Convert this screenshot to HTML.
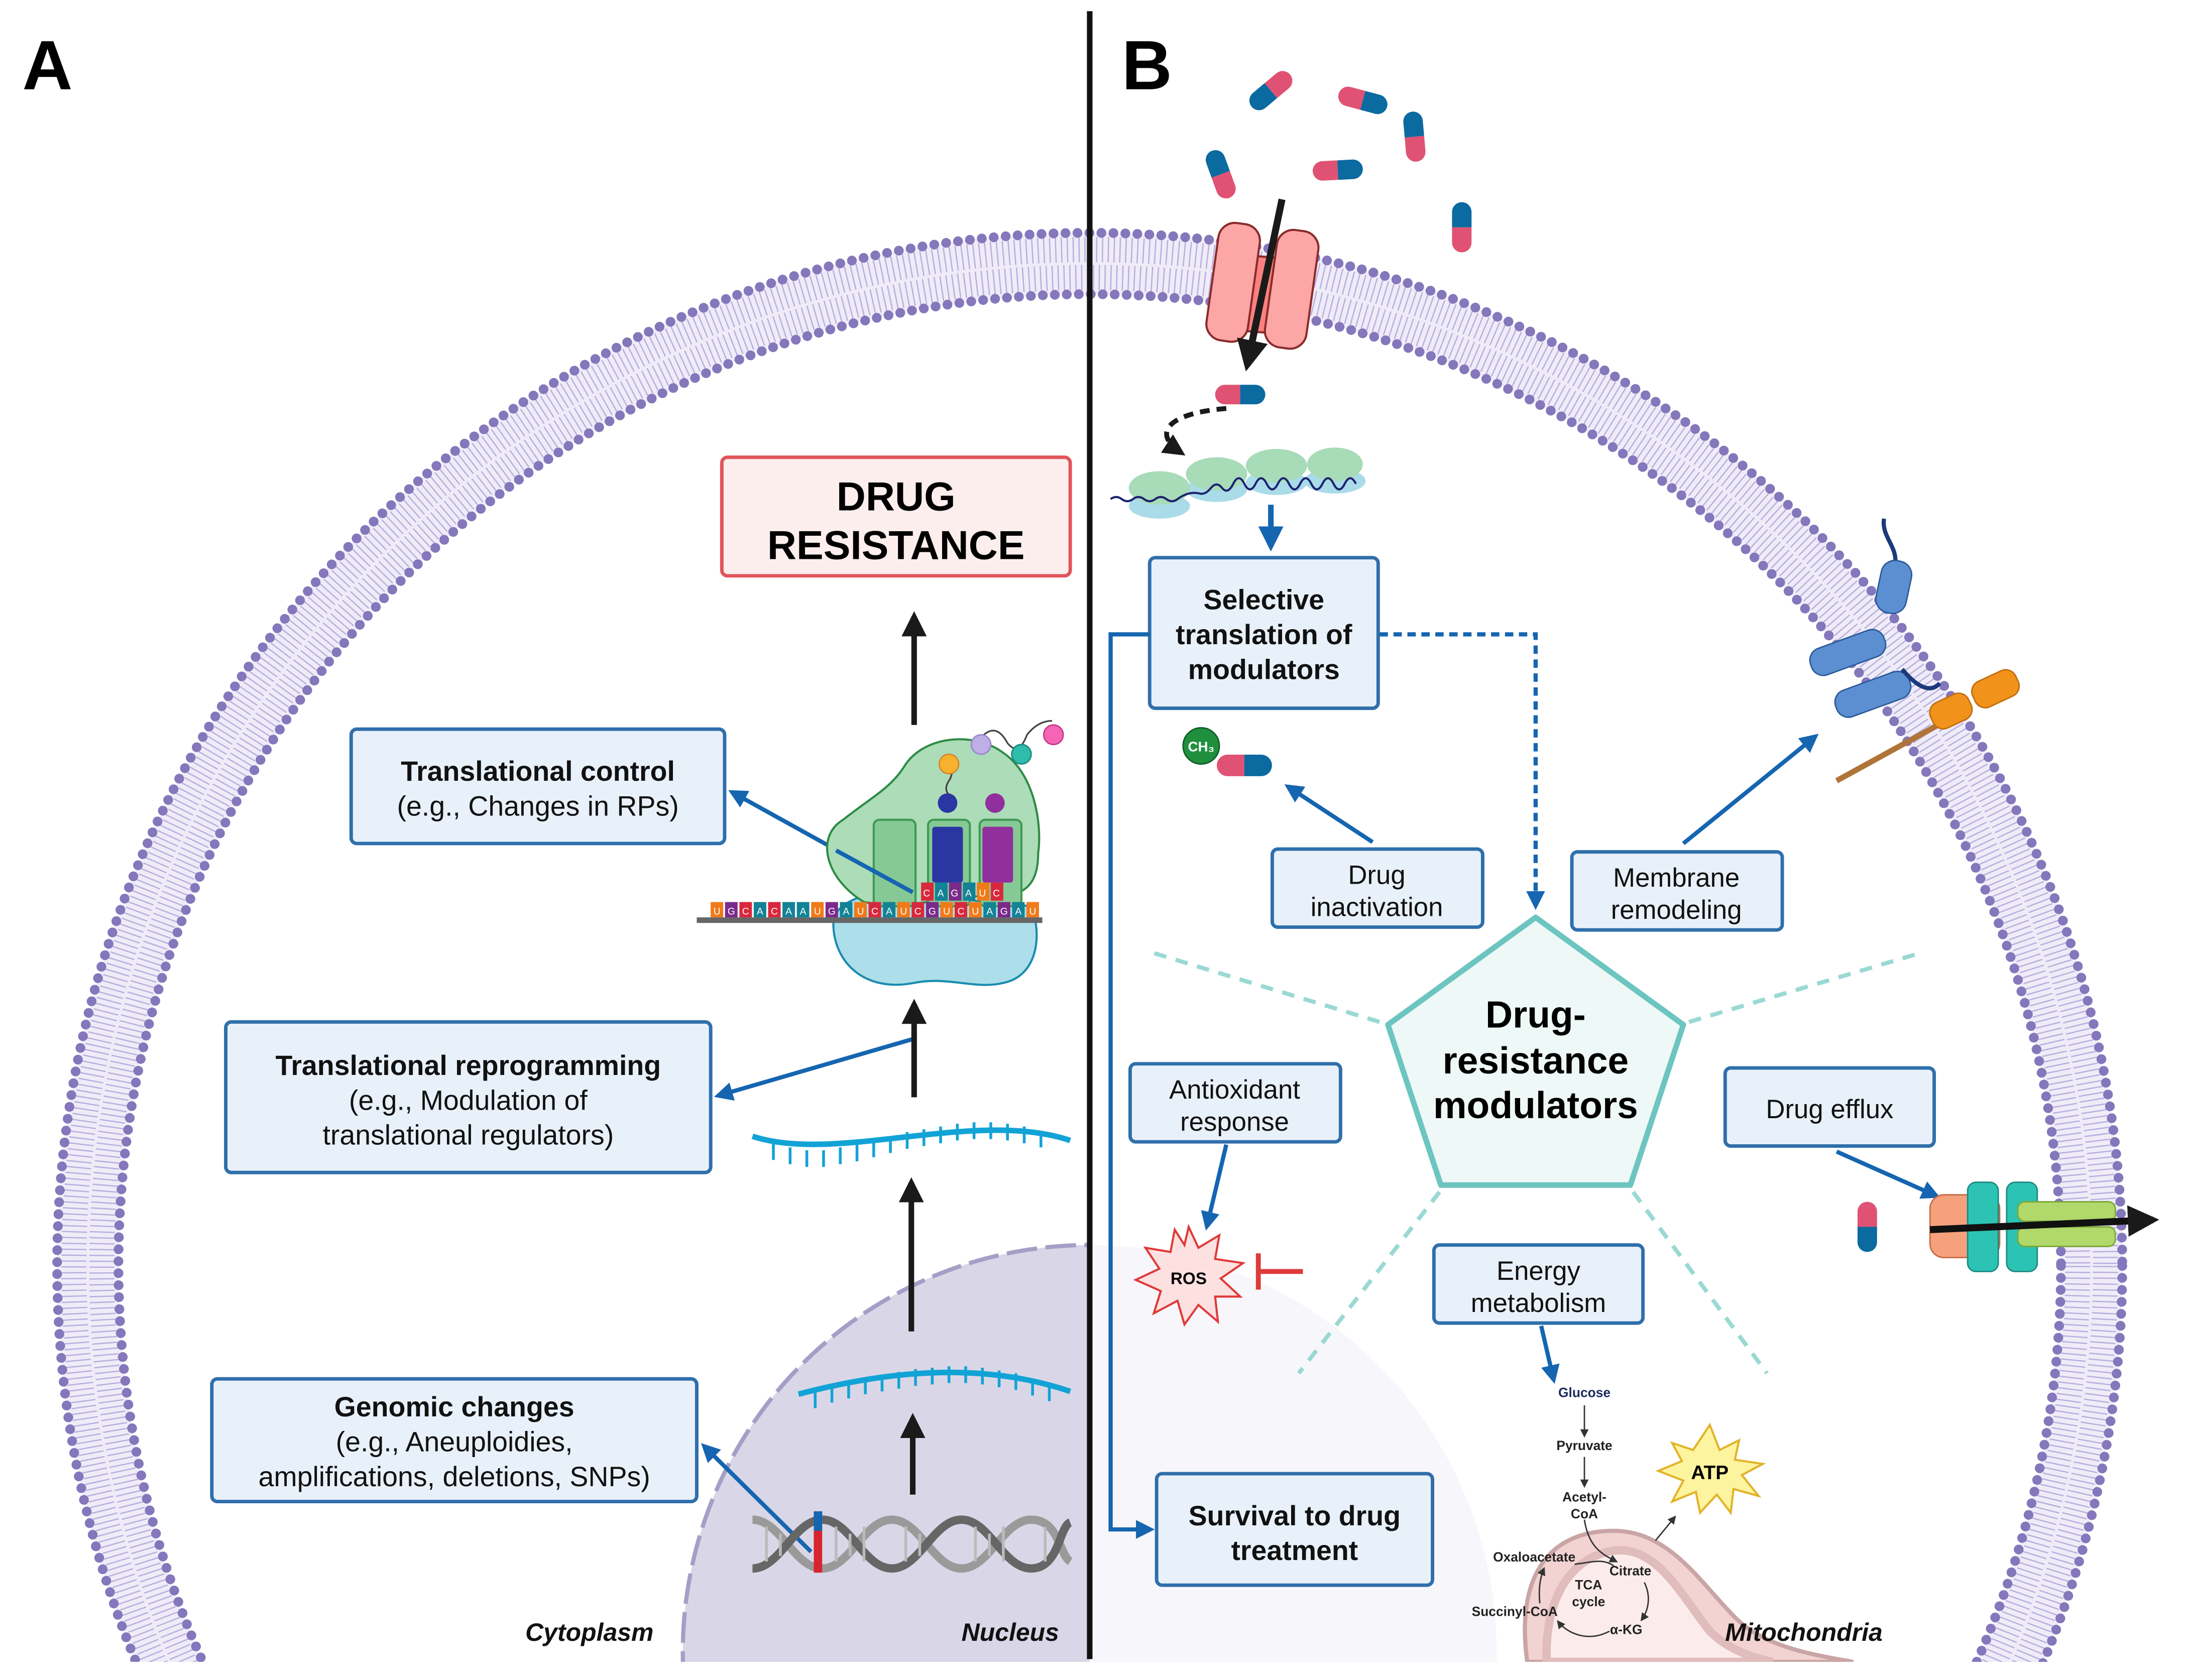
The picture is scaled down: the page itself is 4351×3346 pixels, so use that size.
<!DOCTYPE html>
<html><head><meta charset="utf-8"><style>
html,body{margin:0;padding:0;background:#fff;width:4351px;height:3346px;overflow:hidden}
svg{display:block}
text{font-family:"Liberation Sans",sans-serif}
</style></head><body>
<svg width="4351" height="3346" viewBox="0 0 1568 1205" preserveAspectRatio="none" xmlns="http://www.w3.org/2000/svg">
<defs>
<clipPath id="cb"><rect x="0" y="0" width="1568" height="1192"/></clipPath>
<clipPath id="cl"><rect x="0" y="0" width="782" height="1192"/></clipPath>
<clipPath id="cr"><rect x="784" y="0" width="800" height="1192"/></clipPath>
<marker id="ab" viewBox="0 0 10 10" refX="8" refY="5" markerWidth="4.5" markerHeight="4.5" orient="auto-start-reverse"><path d="M0,0L10,5L0,10z" fill="#1565b0"/></marker>
<marker id="ak" viewBox="0 0 10 10" refX="8" refY="5" markerWidth="4.5" markerHeight="4.5" orient="auto"><path d="M0,0L10,5L0,10z" fill="#1a1a1a"/></marker>
<marker id="as" viewBox="0 0 10 10" refX="8" refY="5" markerWidth="6" markerHeight="6" orient="auto"><path d="M0,0L10,5L0,10z" fill="#333"/></marker>
<g id="pill"><path d="M0,-7 H-11 A7,7 0 0 0 -11,7 H0z" fill="#e05273"/><path d="M0,-7 H11 A7,7 0 0 1 11,7 H0z" fill="#0b6aa0"/></g>
</defs>

<g clip-path="url(#cb)">
<circle cx="782" cy="1185" r="292" fill="#f7f7fb" clip-path="url(#cr)"/>
<circle cx="782" cy="1185" r="292" fill="#d9d7e7" stroke="#a49fc6" stroke-width="3" stroke-dasharray="22 6" clip-path="url(#cl)"/>
<circle cx="782" cy="908" r="719" fill="none" stroke="#efecf8" stroke-width="44"/>
<circle cx="782" cy="908" r="729" fill="none" stroke="#b7aede" stroke-width="18" stroke-dasharray="0.9 3.3"/>
<circle cx="782" cy="908" r="709" fill="none" stroke="#b7aede" stroke-width="18" stroke-dasharray="0.9 3.3"/>
<circle cx="782" cy="908" r="741" fill="none" stroke="#8477bb" stroke-width="7" stroke-dasharray="0 8.6" stroke-linecap="round"/>
<circle cx="782" cy="908" r="697" fill="none" stroke="#8477bb" stroke-width="7" stroke-dasharray="0 8.6" stroke-linecap="round"/>

<path d="M1096,1192 C1088,1135 1108,1098 1158,1098 C1198,1098 1220,1135 1245,1160 C1265,1180 1295,1186 1330,1192Z" fill="#f2d3d1" stroke="#c9a5a5" stroke-width="3"/>
<path d="M1110,1192 C1108,1150 1125,1116 1160,1112 C1190,1110 1207,1145 1227,1170 C1242,1185 1262,1190 1272,1192Z" fill="#fbeceb" stroke="#e0bcbc" stroke-width="6"/>
</g>

<line x1="782" y1="8" x2="782" y2="1190" stroke="#111" stroke-width="4"/>
<text x="16" y="64" font-size="50" font-weight="bold" fill="#000">A</text>
<text x="805" y="64" font-size="50" font-weight="bold" fill="#000">B</text>

<use href="#pill" transform="translate(912,65) rotate(140)"/>
<use href="#pill" transform="translate(978,72) rotate(15)"/>
<use href="#pill" transform="translate(1015,98) rotate(-95)"/>
<use href="#pill" transform="translate(876,125) rotate(-110)"/>
<use href="#pill" transform="translate(960,122) rotate(-3)"/>
<use href="#pill" transform="translate(1049,163) rotate(-90)"/>
<use href="#pill" transform="translate(890,283)"/>
<use href="#pill" transform="translate(1340,880) rotate(90)"/>

<g stroke="#8b2b2b" stroke-width="1.5">
<path d="M893,183 L930,186 L926,240 L888,237Z" fill="#fb8080"/>
<rect x="870" y="160" width="30" height="85" rx="12" fill="#fca6a6" transform="rotate(8 885 202)"/>
<rect x="912" y="165" width="30" height="85" rx="12" fill="#fca6a6" transform="rotate(8 927 207)"/>
</g>
<line x1="920" y1="143" x2="895" y2="262" stroke="#1a1a1a" stroke-width="5" marker-end="url(#ak)"/>
<path d="M880,293 C840,296 825,310 848,325" fill="none" stroke="#1a1a1a" stroke-width="3.5" stroke-dasharray="7 5" marker-end="url(#ak)"/>

<g>
<g fill="#aadbe8"><ellipse cx="832" cy="363" rx="22" ry="9"/><ellipse cx="873" cy="351" rx="22" ry="9"/><ellipse cx="916" cy="346" rx="22" ry="9"/><ellipse cx="958" cy="345" rx="22" ry="9"/></g>
<g fill="#a8dbb8"><ellipse cx="832" cy="350" rx="22" ry="12"/><ellipse cx="873" cy="340" rx="22" ry="12"/><ellipse cx="916" cy="334" rx="22" ry="12"/><ellipse cx="958" cy="333" rx="20" ry="12"/></g>
<path d="M797,358 q4,-3 8,0 t8,0 t8,0 t8,0 t8,0 t8,0 t8,-4 t8,0 t8,-4 t8,0 t8,-3 t8,0 t8,0 t8,0 t8,0 t8,0 t8,0 t8,0 t8,0 t8,0 t8,0 t8,0" fill="none" stroke="#1b2270" stroke-width="1.5"/>
</g>
<line x1="912" y1="362" x2="912" y2="392" stroke="#1565b0" stroke-width="4" marker-end="url(#ab)"/>

<g stroke="#9ad9d3" stroke-width="3" stroke-dasharray="9 7" fill="none">
<line x1="990" y1="733" x2="826" y2="683"/>
<line x1="1212" y1="733" x2="1380" y2="683"/>
<line x1="1033" y1="855" x2="932" y2="985"/>
<line x1="1172" y1="855" x2="1268" y2="985"/>
</g>
<path d="M1102,658 L1208,735 L1170,850 L1034,850 L996,735Z" fill="#eef8f6" stroke="#6cc5c0" stroke-width="4" stroke-linejoin="round"/>
<text x="1102" y="737" font-size="27" font-weight="bold" text-anchor="middle">Drug-</text>
<text x="1102" y="770" font-size="27" font-weight="bold" text-anchor="middle">resistance</text>
<text x="1102" y="802" font-size="27" font-weight="bold" text-anchor="middle">modulators</text>

<g fill="#e8f1fa" stroke="#2f6fab" stroke-width="2.5">
<rect x="252" y="523" width="268" height="82" rx="4"/>
<rect x="162" y="733" width="348" height="108" rx="4"/>
<rect x="152" y="989" width="348" height="88" rx="4"/>
<rect x="825" y="400" width="164" height="108" rx="4"/>
<rect x="913" y="609" width="151" height="56" rx="4"/>
<rect x="1128" y="611" width="151" height="56" rx="4"/>
<rect x="811" y="763" width="151" height="56" rx="4"/>
<rect x="1238" y="766" width="150" height="56" rx="4"/>
<rect x="1029" y="893" width="150" height="56" rx="4"/>
<rect x="830" y="1057" width="198" height="80" rx="4"/>
</g>
<rect x="518" y="328" width="250" height="85" rx="4" fill="#fdeeee" stroke="#e0555a" stroke-width="2.5"/>
<text x="643" y="366" font-size="29" font-weight="bold" text-anchor="middle">DRUG</text>
<text x="643" y="401" font-size="29" font-weight="bold" text-anchor="middle">RESISTANCE</text>

<g font-size="20" text-anchor="middle" fill="#111">
<text x="386" y="560" font-weight="bold">Translational control</text>
<text x="386" y="585">(e.g., Changes in RPs)</text>
<text x="336" y="771" font-weight="bold">Translational reprogramming</text>
<text x="336" y="796">(e.g., Modulation of</text>
<text x="336" y="821">translational regulators)</text>
<text x="326" y="1016" font-weight="bold">Genomic changes</text>
<text x="326" y="1041">(e.g., Aneuploidies,</text>
<text x="326" y="1066">amplifications, deletions, SNPs)</text>
<text x="907" y="437" font-weight="bold">Selective</text>
<text x="907" y="462" font-weight="bold">translation of</text>
<text x="907" y="487" font-weight="bold">modulators</text>
<text x="988" y="634" font-size="19">Drug</text>
<text x="988" y="657" font-size="19">inactivation</text>
<text x="1203" y="636" font-size="19">Membrane</text>
<text x="1203" y="659" font-size="19">remodeling</text>
<text x="886" y="788" font-size="19">Antioxidant</text>
<text x="886" y="811" font-size="19">response</text>
<text x="1313" y="802" font-size="19">Drug efflux</text>
<text x="1104" y="918" font-size="19">Energy</text>
<text x="1104" y="941" font-size="19">metabolism</text>
<text x="929" y="1094" font-weight="bold">Survival to drug</text>
<text x="929" y="1119" font-weight="bold">treatment</text>
</g>

<g stroke="#1565b0" stroke-width="3" fill="none">
<polyline points="825,455 797,455 797,1097 826,1097" marker-end="url(#ab)"/>
<polyline points="990,455 1102,455 1102,650" stroke-dasharray="6 4" marker-end="url(#ab)"/>
<line x1="985" y1="604" x2="924" y2="564" marker-end="url(#ab)"/>
<line x1="1208" y1="605" x2="1303" y2="528" marker-end="url(#ab)"/>
<line x1="880" y1="821" x2="866" y2="880" marker-end="url(#ab)"/>
<line x1="1318" y1="826" x2="1390" y2="858" marker-end="url(#ab)"/>
<line x1="1106" y1="951" x2="1115" y2="990" marker-end="url(#ab)"/>
<line x1="655" y1="640" x2="525" y2="568" marker-end="url(#ab)"/>
<line x1="656" y1="745" x2="515" y2="786" marker-end="url(#ab)"/>
<line x1="582" y1="1113" x2="505" y2="1037" marker-end="url(#ab)"/>
</g>

<g stroke="#1a1a1a" stroke-width="4" fill="none" marker-end="url(#ak)">
<line x1="656" y1="520" x2="656" y2="442"/>
<line x1="656" y1="787" x2="656" y2="720"/>
<line x1="654" y1="955" x2="654" y2="848"/>
<line x1="655" y1="1072" x2="655" y2="1017"/>
</g>

<g stroke="#12a3d6" stroke-width="4" fill="none">
<path d="M540,815 C600,835 700,795 768,818"/>
<path d="M573,1000 C630,985 700,975 768,998"/>
</g>
<g stroke="#12a3d6" stroke-width="2">
<path d="M555,820v12 M567,823v12 M579,825v12 M591,825v12 M603,823v12 M615,821v12 M627,818v12 M639,815v12 M651,812v12 M663,810v12 M675,808v12 M687,806v12 M699,805v12 M711,805v12 M723,806v12 M735,808v12 M747,811v12"/>
<path d="M585,998v12 M597,994v12 M609,991v12 M621,988v12 M633,986v12 M645,984v12 M657,982v12 M669,981v12 M681,980v12 M693,980v12 M705,981v12 M717,983v12 M729,985v12 M741,989v12 M753,993v12"/>
</g>

<g fill="none" stroke-width="6">
<path d="M540,1090 C560,1090 570,1125 590,1125 S620,1090 640,1090 S670,1125 690,1125 S720,1090 740,1090 S760,1115 768,1120" stroke="#9a9a9a"/>
<path d="M540,1125 C560,1125 570,1090 590,1090 S620,1125 640,1125 S670,1090 690,1090 S720,1125 740,1125 S760,1095 768,1092" stroke="#666"/>
</g>
<g stroke="#bbb" stroke-width="2"><path d="M550,1095v25 M560,1100v16 M600,1095v25 M610,1100v16 M620,1095v25 M650,1095v25 M660,1100v16 M700,1095v25 M710,1100v16 M720,1095v25 M750,1095v25"/></g>
<rect x="584" y="1084" width="6" height="44" fill="#d8242f"/>
<rect x="584" y="1084" width="6" height="14" fill="#1565b0"/>

<path d="M656,705 C620,712 598,690 598,662 C598,648 620,640 640,640 L740,650 C748,670 745,700 720,705 C700,710 680,700 656,705Z" fill="#acdfe9" stroke="#1b8bb0" stroke-width="1.5"/>
<path d="M620,647 C592,630 585,600 605,588 C625,572 640,565 650,548 C665,527 700,525 720,540 C742,555 748,590 745,612 C745,640 730,645 700,643 L640,650Z" fill="#acdcb8" stroke="#2e8b45" stroke-width="1.5"/>
<g fill="#86c996" stroke="#3e9a55" stroke-width="1.5"><rect x="627" y="588" width="30" height="62" rx="4"/><rect x="666" y="588" width="30" height="62" rx="4"/><rect x="703" y="588" width="30" height="62" rx="4"/></g>
<rect x="669" y="593" width="22" height="40" rx="2" fill="#2a36a2"/>
<rect x="705" y="593" width="22" height="40" rx="2" fill="#91309c"/>
<circle cx="680" cy="576" r="7" fill="#2a36a2"/><circle cx="714" cy="576" r="7" fill="#91309c"/>
<path d="M681,548 q4,6 0,12 q-4,6 0,10 M705,528 q10,-10 18,5 q8,10 14,-6 q8,-10 18,-10" fill="none" stroke="#444" stroke-width="1.2"/>
<circle cx="681" cy="548" r="7" fill="#f8b12f" stroke="#d4882c"/>
<circle cx="704" cy="534" r="7" fill="#c0aee6" stroke="#9d86cd"/>
<circle cx="733" cy="541" r="7" fill="#2fbcad" stroke="#1d8c80"/>
<circle cx="756" cy="527" r="7" fill="#f466b5" stroke="#c7398a"/>
<g font-size="7" fill="#fff" text-anchor="middle">
<rect x="661" y="633" width="9" height="13" fill="#d9283c"/><rect x="671" y="633" width="9" height="13" fill="#138296"/><rect x="681" y="633" width="9" height="13" fill="#7a2a8a"/>
<rect x="691" y="633" width="9" height="13" fill="#138296"/><rect x="701" y="633" width="9" height="13" fill="#f07a1a"/><rect x="711" y="633" width="9" height="13" fill="#d9283c"/>
<text x="665" y="643">C</text><text x="675" y="643">A</text><text x="685" y="643">G</text><text x="695" y="643">A</text><text x="705" y="643">U</text><text x="715" y="643">C</text>
</g>
<rect x="500" y="658" width="248" height="4" fill="#666"/>
<g font-size="7" fill="#fff" text-anchor="middle">
<rect x="510" y="647" width="9" height="11" fill="#f07a1a"/><text x="514.5" y="656">U</text>
<rect x="520.3" y="647" width="9" height="11" fill="#7a2a8a"/><text x="524.8" y="656">G</text>
<rect x="530.6" y="647" width="9" height="11" fill="#d9283c"/><text x="535.1" y="656">C</text>
<rect x="540.9" y="647" width="9" height="11" fill="#138296"/><text x="545.4" y="656">A</text>
<rect x="551.2" y="647" width="9" height="11" fill="#d9283c"/><text x="555.7" y="656">C</text>
<rect x="561.5" y="647" width="9" height="11" fill="#138296"/><text x="566" y="656">A</text>
<rect x="571.8" y="647" width="9" height="11" fill="#138296"/><text x="576.3" y="656">A</text>
<rect x="582.1" y="647" width="9" height="11" fill="#f07a1a"/><text x="586.6" y="656">U</text>
<rect x="592.4" y="647" width="9" height="11" fill="#7a2a8a"/><text x="596.9" y="656">G</text>
<rect x="602.7" y="647" width="9" height="11" fill="#138296"/><text x="607.2" y="656">A</text>
<rect x="613" y="647" width="9" height="11" fill="#f07a1a"/><text x="617.5" y="656">U</text>
<rect x="623.3" y="647" width="9" height="11" fill="#d9283c"/><text x="627.8" y="656">C</text>
<rect x="633.6" y="647" width="9" height="11" fill="#138296"/><text x="638.1" y="656">A</text>
<rect x="643.9" y="647" width="9" height="11" fill="#f07a1a"/><text x="648.4" y="656">U</text>
<rect x="654.2" y="647" width="9" height="11" fill="#d9283c"/><text x="658.7" y="656">C</text>
<rect x="664.5" y="647" width="9" height="11" fill="#7a2a8a"/><text x="669" y="656">G</text>
<rect x="674.8" y="647" width="9" height="11" fill="#f07a1a"/><text x="679.3" y="656">U</text>
<rect x="685.1" y="647" width="9" height="11" fill="#d9283c"/><text x="689.6" y="656">C</text>
<rect x="695.4" y="647" width="9" height="11" fill="#f07a1a"/><text x="699.9" y="656">U</text>
<rect x="705.7" y="647" width="9" height="11" fill="#138296"/><text x="710.2" y="656">A</text>
<rect x="716" y="647" width="9" height="11" fill="#7a2a8a"/><text x="720.5" y="656">G</text>
<rect x="726.3" y="647" width="9" height="11" fill="#138296"/><text x="730.8" y="656">A</text>
<rect x="736.6" y="647" width="9" height="11" fill="#f07a1a"/><text x="741.1" y="656">U</text>
</g>
<line x1="655" y1="640" x2="600" y2="610" stroke="#1565b0" stroke-width="3"/>

<use href="#pill" transform="translate(893,549) scale(1.1)"/>
<circle cx="862" cy="535" r="13" fill="#1f8f3e" stroke="#0f5e25"/>
<text x="862" y="539" font-size="10" font-weight="bold" fill="#fff" text-anchor="middle">CH₃</text>

<path d="M1352,372 C1350,385 1362,392 1360,405" fill="none" stroke="#1b3a7a" stroke-width="3"/>
<rect x="1348" y="402" width="22" height="38" rx="10" fill="#5b8fd1" stroke="#2c5a9a" transform="rotate(12 1359 421)"/>
<rect x="1298" y="458" width="56" height="20" rx="9" fill="#5b8fd1" stroke="#2c5a9a" transform="rotate(-20 1326 468)"/>
<rect x="1316" y="488" width="56" height="20" rx="9" fill="#5b8fd1" stroke="#2c5a9a" transform="rotate(-20 1344 498)"/>
<path d="M1365,480 C1375,492 1385,498 1392,490" fill="none" stroke="#1b3a7a" stroke-width="3"/>
<line x1="1318" y1="560" x2="1400" y2="515" stroke="#b07438" stroke-width="4"/>
<rect x="1385" y="500" width="30" height="20" rx="8" fill="#f1921a" stroke="#c06d10" transform="rotate(-25 1400 510)"/>
<rect x="1415" y="484" width="34" height="20" rx="8" fill="#f1921a" stroke="#c06d10" transform="rotate(-25 1432 494)"/>

<rect x="1385" y="857" width="50" height="45" rx="10" fill="#f5a27c" stroke="#c86a48"/>
<rect x="1412" y="848" width="22" height="64" rx="6" fill="#2cc3b4" stroke="#1a8a80"/>
<rect x="1440" y="848" width="22" height="64" rx="6" fill="#2cc3b4" stroke="#1a8a80"/>
<rect x="1448" y="862" width="70" height="14" rx="5" fill="#b0d86a" stroke="#7aa83a"/>
<rect x="1448" y="880" width="70" height="14" rx="5" fill="#b0d86a" stroke="#7aa83a"/>
<line x1="1385" y1="882" x2="1545" y2="875" stroke="#111" stroke-width="5" marker-end="url(#ak)"/>

<path d="M853,880 L860,895 L875,886 L872,903 L892,906 L876,917 L890,930 L872,930 L874,948 L860,936 L850,950 L845,933 L828,942 L833,926 L815,918 L832,910 L822,895 L840,898 L843,882 L850,893Z" fill="#fde1e1" stroke="#e03a3a" stroke-width="1.5"/>
<text x="853" y="921" font-size="12" font-weight="bold" text-anchor="middle">ROS</text>
<line x1="903" y1="912" x2="935" y2="912" stroke="#e03a3a" stroke-width="3.5"/>
<line x1="903" y1="899" x2="903" y2="925" stroke="#e03a3a" stroke-width="3.5"/>

<g font-size="9.5" font-weight="bold" fill="#222" text-anchor="middle">
<text x="1137" y="1002" fill="#1b2a5a">Glucose</text>
<text x="1137" y="1040">Pyruvate</text>
<text x="1137" y="1077">Acetyl-</text>
<text x="1137" y="1089">CoA</text>
<text x="1101" y="1120">Oxaloacetate</text>
<text x="1170" y="1130">Citrate</text>
<text x="1140" y="1140">TCA</text>
<text x="1140" y="1152">cycle</text>
<text x="1087" y="1159">Succinyl-CoA</text>
<text x="1167" y="1172">α-KG</text>
</g>
<g stroke="#333" stroke-width="1" fill="none">
<line x1="1137" y1="1008" x2="1137" y2="1030" marker-end="url(#as)"/>
<line x1="1137" y1="1045" x2="1137" y2="1066" marker-end="url(#as)"/>
<path d="M1137,1090 C1140,1110 1150,1115 1160,1120" marker-end="url(#as)"/>
<path d="M1130,1122 C1145,1120 1150,1118 1158,1123"/>
<path d="M1180,1135 C1185,1145 1183,1155 1178,1162" marker-end="url(#as)"/>
<path d="M1155,1170 C1140,1178 1125,1172 1118,1163" marker-end="url(#as)"/>
<path d="M1105,1150 C1104,1140 1105,1132 1108,1125" marker-end="url(#as)"/>
<line x1="1188" y1="1105" x2="1202" y2="1088" marker-end="url(#as)"/>
</g>
<path d="M1227,1022 L1234,1040 L1248,1033 L1245,1047 L1265,1050 L1250,1058 L1262,1073 L1244,1068 L1242,1085 L1232,1072 L1220,1085 L1217,1070 L1200,1077 L1208,1062 L1190,1055 L1207,1048 L1200,1035 L1215,1040Z" fill="#fdf4a0" stroke="#e2b32a" stroke-width="1.5"/>
<text x="1227" y="1061" font-size="14" font-weight="bold" text-anchor="middle">ATP</text>

<g font-size="18" font-weight="bold" font-style="italic" fill="#111">
<text x="377" y="1177">Cytoplasm</text>
<text x="690" y="1177">Nucleus</text>
<text x="1238" y="1177">Mitochondria</text>
</g>
</svg>
</body></html>
